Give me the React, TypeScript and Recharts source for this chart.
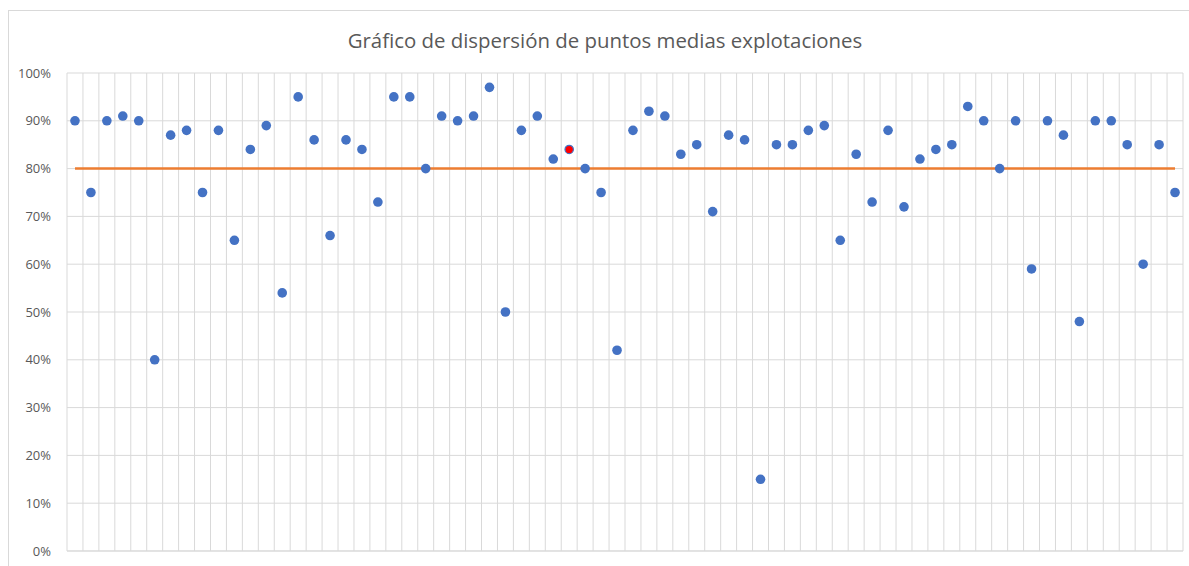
import React from 'react'
import {
  ComposedChart,
  Scatter,
  Line,
  XAxis,
  YAxis,
  CartesianGrid,
  ReferenceLine,
} from 'recharts'

// Media por explotación (%), en orden
const medias = [
  90, 75, 90, 91, 90, 40, 87, 88, 75, 88,
  65, 84, 89, 54, 95, 86, 66, 86, 84, 73,
  95, 95, 80, 91, 90, 91, 97, 50, 88, 91,
  82, 84, 80, 75, 42, 88, 92, 91, 83, 85,
  71, 87, 86, 15, 85, 85, 88, 89, 65, 83,
  73, 88, 72, 82, 84, 85, 93, 90, 80, 90,
  59, 90, 87, 48, 90, 90, 85, 60, 85, 75,
]
// explotación destacada en rojo (posición 32)
const destacada = [32]
const objetivo = 80
const yTicks = [0, 10, 20, 30, 40, 50, 60, 70, 80, 90, 100]

const puntos = medias.map((v, i) => ({ x: i + 1, y: v }))
const normales = puntos.filter((p) => !destacada.includes(p.x))
const rojos = puntos.filter((p) => destacada.includes(p.x))
const lineaObjetivo = [
  { x: 1, y: objetivo },
  { x: medias.length, y: objetivo },
]
// límites entre explotaciones -> líneas verticales de la cuadrícula
const xTicks = Array.from({ length: medias.length + 1 }, (_, i) => i + 0.5)

const FONT = 'Open Sans, Liberation Sans, sans-serif'

export default function App() {
  return (
    <div
      style={{
        position: 'absolute',
        left: 0,
        top: 0,
        width: 1189,
        height: 566,
        overflow: 'hidden',
        background: '#fff',
      }}
    >
      <div
        style={{
          position: 'absolute',
          left: 8,
          top: 10,
          width: 1200,
          height: 600,
          border: '1px solid #d9d9d9',
        }}
      />
      <div
        style={{
          position: 'absolute',
          left: 0,
          width: 1210,
          top: 26,
          textAlign: 'center',
          fontFamily: FONT,
          fontSize: 20.4,
          color: '#595959',
        }}
      >
        Gráfico de dispersión de puntos medias explotaciones
      </div>
      <div style={{ position: 'absolute', left: 0, top: 0 }}>
        <ComposedChart
          width={1189}
          height={566}
          margin={{ top: 73, right: 6, bottom: 14, left: 7 }}
        >
          <CartesianGrid stroke="#d9d9d9" strokeWidth={1} vertical={false} />
          {xTicks.map((t) => (
            <ReferenceLine key={t} x={t} stroke="#d9d9d9" strokeWidth={1} />
          ))}
          <XAxis
            type="number"
            dataKey="x"
            domain={[0.5, medias.length + 0.5]}
            ticks={xTicks}
            tick={false}
            tickLine={false}
            axisLine={{ stroke: '#d9d9d9' }}
            height={1}
            allowDataOverflow
          />
          <YAxis
            type="number"
            dataKey="y"
            domain={[0, 100]}
            ticks={yTicks}
            tickFormatter={(v) => `${v}%`}
            tick={{ fill: '#595959', fontSize: 13, fontFamily: FONT }}
            tickLine={false}
            axisLine={false}
            tickMargin={10}
            width={60}
          />
          <Line
            data={lineaObjetivo}
            dataKey="y"
            stroke="#ed7d31"
            strokeWidth={2.5}
            dot={false}
            activeDot={false}
            isAnimationActive={false}
          />
          <Scatter
            data={normales}
            fill="#4472c4"
            shape={(p: any) => <circle cx={p.cx} cy={p.cy} r={4.8} fill="#4472c4" />}
            isAnimationActive={false}
          />
          <Scatter
            data={rojos}
            fill="#ff0000"
            shape={(p: any) => (
              <circle cx={p.cx} cy={p.cy} r={4.2} fill="#ff0000" stroke="#4472c4" strokeWidth={1.2} />
            )}
            isAnimationActive={false}
          />
        </ComposedChart>
      </div>
    </div>
  )
}
